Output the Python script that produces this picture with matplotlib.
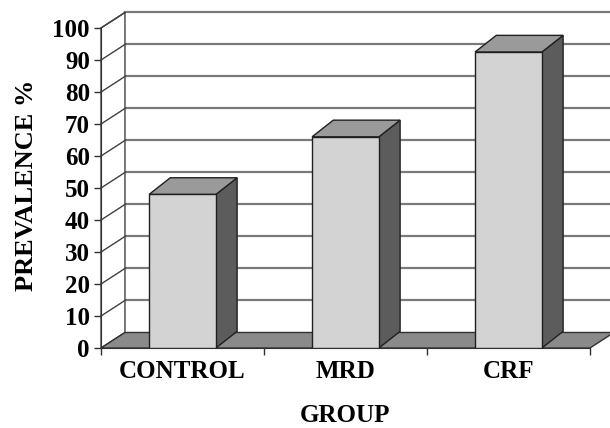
import matplotlib
matplotlib.use('Agg')
import matplotlib.pyplot as plt
from matplotlib.patches import Polygon

groups = ['CONTROL', 'MRD', 'CRF']
prevalence = [48, 66, 92.5]
yticks = [0, 10, 20, 30, 40, 50, 60, 70, 80, 90, 100]

plt.rcParams['font.family'] = 'Liberation Serif'
plt.rcParams['font.weight'] = 'bold'
plt.rcParams['font.size'] = 18

# fake 3d depth (data units): box walls and bars
dx, dy = 0.147, 4.85
bdx, bdy = 0.13, 5.2
w = 0.41

fig = plt.figure(figsize=(6.1, 4.28), dpi=100)
ax = fig.add_axes([101 / 610, 80 / 428, 509 / 610, 320 / 428])
ax.set_xlim(-0.5, -0.5 + 509 / 163)
ax.set_ylim(yticks[0], yticks[-1])

x0, x1 = -0.5, len(groups) - 0.5
top = yticks[-1]

# back wall with gridlines
ax.add_patch(Polygon([(x0 + dx, dy), (x1 + dx, dy), (x1 + dx, top + dy), (x0 + dx, top + dy)],
                     facecolor='white', edgecolor='none', clip_on=False, zorder=1))
for t in yticks[1:]:
    ax.plot([x0 + dx, x1 + dx], [t + dy, t + dy], color='#7a7a7a', lw=1.6, clip_on=False, zorder=2)

# left wall
ax.add_patch(Polygon([(x0, 0), (x0 + dx, dy), (x0 + dx, top + dy), (x0, top)],
                     facecolor='white', edgecolor='#404040', lw=1, clip_on=False, zorder=3))
for t in yticks[1:]:
    ax.plot([x0, x0 + dx], [t, t + dy], color='#404040', lw=1, clip_on=False, zorder=3)

# floor
ax.add_patch(Polygon([(x0, 0), (x1, 0), (x1 + dx, dy), (x0 + dx, dy)],
                     facecolor='#8a8a8a', edgecolor='#303030', lw=1, clip_on=False, zorder=4))

# bars: front face + side + top
for i, v in enumerate(prevalence):
    left, right = i - w / 2, i + w / 2
    ax.add_patch(Polygon([(right, 0), (right + bdx, bdy), (right + bdx, v + bdy), (right, v)],
                         facecolor='#5c5c5c', edgecolor='#202020', lw=1, clip_on=False, zorder=5))
    ax.add_patch(Polygon([(left, v), (right, v), (right + bdx, v + bdy), (left + bdx, v + bdy)],
                         facecolor='#9a9a9a', edgecolor='#202020', lw=1, clip_on=False, zorder=5))
ax.bar(range(len(groups)), prevalence, width=w, color='#d3d3d3', edgecolor='#202020', lw=1, zorder=6)

for s in ['top', 'right']:
    ax.spines[s].set_visible(False)
ax.spines['left'].set_color('#303030')
ax.spines['bottom'].set_color('#303030')
ax.spines['bottom'].set_bounds(x0, x1)
ax.spines['left'].set_zorder(7)

ax.set_yticks(yticks)
ax.tick_params(axis='y', direction='out', length=5, width=1, color='#303030', pad=3)
ax.set_xticks(range(len(groups)))
ax.set_xticklabels(groups)
ax.set_xticks([x0 + k for k in range(len(groups) + 1)], minor=True)
ax.tick_params(axis='x', which='major', length=0, pad=9)
ax.tick_params(axis='x', which='minor', direction='out', length=5, width=1, color='#303030')

fig.text(27 / 610, 1 - 185 / 428, 'PREVALENCE %', rotation=90, ha='center', va='center', fontsize=19)
fig.text(345 / 610, 1 - 415 / 428, 'GROUP', ha='center', va='center')

fig.savefig('out.png', dpi=100)
